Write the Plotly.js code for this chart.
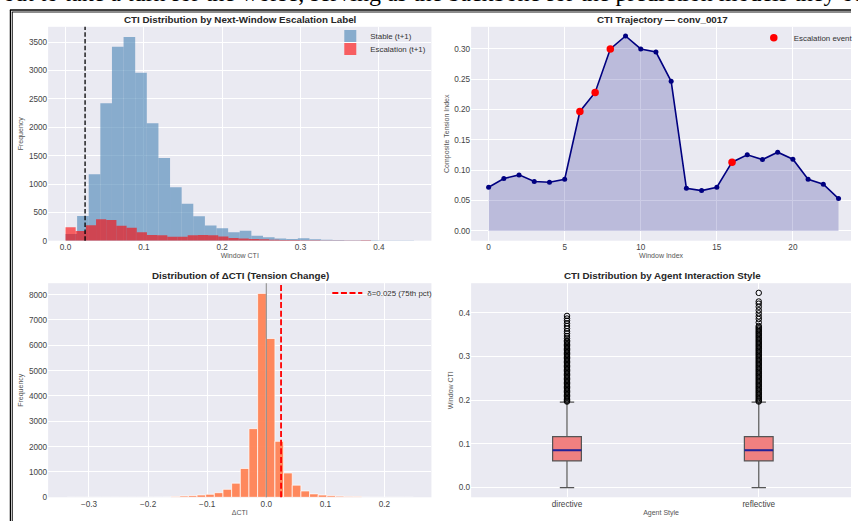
<!DOCTYPE html>
<html><head><meta charset="utf-8">
<script src="https://cdn.plot.ly/plotly-3.0.1.min.js"></script>
<style>html,body{margin:0;padding:0;background:#fff;} #chart{width:858px;height:521px;}</style>
</head><body><div id="chart"></div>
<script>
// ---------- DATA ----------
// Panel 1: CTI histogram by next-window label
const stableBinStart = 0.0;
const stableBinSize = 0.01483;
const stableCounts = [120, 435, 1170, 2423, 3422, 3593, 2964, 2070, 1458, 941, 653, 430, 270, 219, 148, 176, 88, 60, 40, 32, 42, 25, 18, 12, 10, 8, 6, 5, 4, 3];
const escalationBinStart = 0.0;
const escalationBinSize = 0.013;
const escalationCounts = [236, 171, 271, 377, 365, 265, 229, 150, 100, 96, 70, 68, 95, 100, 98, 72, 48, 40, 30, 24, 18, 13, 11, 8, 6, 5, 4, 4, 2, 6];
const deltaThreshold = 0.025;

// Panel 2: CTI trajectory for conv_0017
const windowIndex = [0, 1, 2, 3, 4, 5, 6, 7, 8, 9, 10, 11, 12, 13, 14, 15, 16, 17, 18, 19, 20, 21, 22, 23];
const ctiTrajectory = [0.072, 0.0863, 0.0923, 0.0813, 0.0802, 0.0852, 0.1967, 0.228, 0.2995, 0.3209, 0.2995, 0.2945, 0.2462, 0.0703, 0.0665, 0.072, 0.1132, 0.1253, 0.1176, 0.1297, 0.1181, 0.0852, 0.0769, 0.0533];
const escalationWindows = [6, 7, 8, 16];

// Panel 3: distribution of delta CTI
const deltaBinStart = -0.33695;
const deltaBinSize = 0.01465;
const deltaCounts = [1, 0, 0, 1, 0, 1, 0, 1, 2, 3, 4, 6, 30, 50, 64, 91, 118, 182, 315, 558, 1138, 2710, 8050, 6270, 2210, 960, 480, 250, 135, 90, 60, 45, 35, 30, 4, 2, 1, 0, 1, 1];

// Panel 4: CTI by agent style (box statistics)
const agentStyles = ['directive', 'reflective'];
const boxQ1 = [0.061, 0.061];
const boxMedian = [0.0853, 0.0853];
const boxQ3 = [0.1166, 0.1166];
const boxLower = [0.0, 0.0];
const boxUpper = [0.1958, 0.1958];
const directiveOutliers = [0.197, 0.199, 0.202, 0.205, 0.208, 0.211, 0.214, 0.217, 0.220, 0.223, 0.226, 0.229, 0.232, 0.235, 0.238, 0.241, 0.244, 0.247, 0.250, 0.253, 0.256, 0.259, 0.262, 0.265, 0.268, 0.271, 0.274, 0.277, 0.280, 0.283, 0.286, 0.289, 0.292, 0.295, 0.298, 0.301, 0.304, 0.307, 0.310, 0.313, 0.316, 0.319, 0.322, 0.325, 0.328, 0.331, 0.334, 0.337, 0.341, 0.347, 0.353, 0.358, 0.364, 0.370, 0.376, 0.382, 0.387, 0.393];
const reflectiveOutliers = [0.197, 0.199, 0.202, 0.205, 0.208, 0.211, 0.214, 0.217, 0.220, 0.223, 0.226, 0.229, 0.232, 0.235, 0.238, 0.241, 0.244, 0.247, 0.250, 0.253, 0.256, 0.259, 0.262, 0.265, 0.268, 0.271, 0.274, 0.277, 0.280, 0.283, 0.286, 0.289, 0.292, 0.295, 0.298, 0.301, 0.304, 0.307, 0.310, 0.313, 0.316, 0.319, 0.322, 0.325, 0.328, 0.331, 0.334, 0.337, 0.340, 0.343, 0.346, 0.349, 0.352, 0.355, 0.358, 0.361, 0.364, 0.367, 0.370, 0.378, 0.386, 0.392, 0.399, 0.406, 0.414, 0.421, 0.426, 0.4457];

// ---------- LAYOUT HELPERS ----------
const W = 858, H = 521;
const fx = p => p / W;
const fy = p => 1 - p / H;
const binLefts = (start, size, n) => Array.from({length: n}, (_, i) => start + i * size);

const BG = '#EAEAF2';
const TICKFONT = {family: 'Liberation Sans, Arial, sans-serif', size: 8.2, color: '#444'};
const AXTITLE = {family: 'Liberation Sans, Arial, sans-serif', size: 7, color: '#555'};

function axis(extra) {
  return Object.assign({
    showgrid: true, gridcolor: '#FFFFFF', gridwidth: 1,
    zeroline: false, showline: false, ticks: '', ticklen: 0,
    tickfont: TICKFONT, fixedrange: true
  }, extra);
}

const traces = [
  {type: 'bar', x: binLefts(stableBinStart, stableBinSize, stableCounts.length), y: stableCounts,
   width: stableBinSize, offset: 0, name: 'Stable (t+1)',
   marker: {color: 'rgba(70,130,180,0.6)', line: {width: 0}},
   xaxis: 'x', yaxis: 'y', legend: 'legend'},
  {type: 'bar', x: binLefts(escalationBinStart, escalationBinSize, escalationCounts.length), y: escalationCounts,
   width: escalationBinSize, offset: 0, name: 'Escalation (t+1)',
   marker: {color: 'rgba(255,0,0,0.6)', line: {width: 0}},
   xaxis: 'x', yaxis: 'y', legend: 'legend2'},
  {type: 'scatter', mode: 'lines+markers', x: windowIndex, y: ctiTrajectory,
   fill: 'tozeroy', fillcolor: 'rgba(0,0,128,0.2)',
   line: {color: '#000080', width: 1.6}, marker: {color: '#000080', size: 5},
   showlegend: false, xaxis: 'x2', yaxis: 'y2'},
  {type: 'scatter', mode: 'markers', x: escalationWindows, y: escalationWindows.map(i => ctiTrajectory[i]),
   marker: {color: '#FF0000', size: 7.5}, name: 'Escalation event',
   xaxis: 'x2', yaxis: 'y2', legend: 'legend3'},
  {type: 'bar', x: binLefts(deltaBinStart, deltaBinSize, deltaCounts.length), y: deltaCounts,
   width: deltaBinSize, offset: 0, showlegend: false,
   marker: {color: 'rgba(255,127,80,0.92)', line: {color: '#FFFFFF', width: 0.7}},
   xaxis: 'x3', yaxis: 'y3'},
  {type: 'box', x: agentStyles, q1: boxQ1, median: boxMedian, q3: boxQ3,
   lowerfence: boxLower, upperfence: boxUpper, boxpoints: false,
   fillcolor: '#F08080', line: {color: '#555555', width: 1.2}, whiskerwidth: 0.5, width: 0.15,
   showlegend: false, xaxis: 'x4', yaxis: 'y4'},
  {type: 'box', x: agentStyles, q1: boxMedian, median: boxMedian, q3: boxMedian,
   lowerfence: boxMedian, upperfence: boxMedian, boxpoints: false,
   fillcolor: 'rgba(0,0,0,0)', line: {color: '#22229A', width: 2}, whiskerwidth: 0, width: 0.15,
   showlegend: false, xaxis: 'x4', yaxis: 'y4'},
  {type: 'scatter', mode: 'markers', x: directiveOutliers.map(() => agentStyles[0]), y: directiveOutliers,
   marker: {symbol: 'circle-open', size: 5.5, color: '#000000', line: {width: 1}},
   showlegend: false, xaxis: 'x4', yaxis: 'y4'},
  {type: 'scatter', mode: 'markers', x: reflectiveOutliers.map(() => agentStyles[1]), y: reflectiveOutliers,
   marker: {symbol: 'circle-open', size: 5.5, color: '#000000', line: {width: 1}},
   showlegend: false, xaxis: 'x4', yaxis: 'y4'}
];

const topY = [fy(240.7), fy(26.8)];
const botY = [fy(497.3), fy(283.2)];
const leftX = [fx(48.5), fx(435)];
const rightX = [fx(475), 1];

const titleFont = {family: 'Liberation Sans, Arial, sans-serif', size: 9.8, color: '#262626'};
function ptitle(text, xpx, ypx) {
  return {xref: 'paper', yref: 'paper', x: fx(xpx), y: fy(ypx), xanchor: 'center', yanchor: 'middle',
          text: '<b>' + text + '</b>', showarrow: false, font: titleFont};
}

const legendBase = {bgcolor: 'rgba(0,0,0,0)', borderwidth: 0, font: {family: 'Liberation Sans, Arial, sans-serif', size: 7.9, color: '#333'},
                    xanchor: 'left', yanchor: 'middle'};

const layout = {
  width: W, height: H, autosize: false,
  margin: {l: 0, r: 0, t: 0, b: 0, pad: 0},
  paper_bgcolor: '#FFFFFF', plot_bgcolor: BG,
  font: {family: 'Liberation Sans, Arial, sans-serif', size: 8.2, color: '#444'},
  barmode: 'overlay', boxmode: 'overlay',
  xaxis: axis({domain: leftX, range: [-0.0222, 0.4672], tickvals: [0, 0.1, 0.2, 0.3, 0.4], tickformat: '.1f', anchor: 'y',
               title: {text: 'Window CTI', font: AXTITLE, standoff: 2}}),
  yaxis: axis({domain: topY, range: [0, 3773], dtick: 500, tick0: 0, anchor: 'x',
               title: {text: 'Frequency', font: AXTITLE, standoff: 4}}),
  xaxis2: axis({domain: rightX, range: [-1.15, 23.82], dtick: 5, tick0: 0, anchor: 'y2',
                title: {text: 'Window Index', font: AXTITLE, standoff: 2}}),
  yaxis2: axis({domain: topY, range: [-0.016, 0.336], dtick: 0.05, tick0: 0, tickformat: '.2f', anchor: 'x2',
                title: {text: 'Composite Tension Index', font: AXTITLE, standoff: 3}}),
  xaxis3: axis({domain: leftX, range: [-0.3692, 0.2795], dtick: 0.1, tick0: 0, tickformat: '.1f', anchor: 'y3',
                title: {text: 'ΔCTI', font: AXTITLE, standoff: 2}}),
  yaxis3: axis({domain: botY, range: [0, 8452], dtick: 1000, tick0: 0, anchor: 'x3',
                title: {text: 'Frequency', font: AXTITLE, standoff: 4}}),
  xaxis4: axis({domain: rightX, type: 'category', range: [-0.5, 1.481], anchor: 'y4',
                title: {text: 'Agent Style', font: AXTITLE, standoff: 2}}),
  yaxis4: axis({domain: botY, range: [-0.0222, 0.4679], dtick: 0.1, tick0: 0, tickformat: '.1f', anchor: 'x4',
                title: {text: 'Window CTI', font: AXTITLE, standoff: 4}}),
  legend: Object.assign({x: fx(333), y: fy(36)}, legendBase),
  legend2: Object.assign({x: fx(333), y: fy(49)}, legendBase),
  legend3: Object.assign({x: fx(760), y: fy(37.7)}, legendBase),
  legend4: Object.assign({x: fx(330), y: fy(293)}, legendBase),
  annotations: [
    {xref: 'paper', yref: 'paper', x: fx(1), y: fy(-7), xanchor: 'left', yanchor: 'middle', showarrow: false,
     text: 'out to take a turn for the worse, serving as the backbone for the prediction models they outline',
     font: {family: 'Liberation Serif, Times New Roman, serif', size: 24, color: '#000'}},
    ptitle('CTI Distribution by Next-Window Escalation Label', 242.5, 19),
    ptitle('CTI Trajectory — conv_0017', 668, 19),
    ptitle('Distribution of ΔCTI (Tension Change)', 242.5, 275.3),
    ptitle('CTI Distribution by Agent Interaction Style', 668.3, 275.3)
  ],
  shapes: [
    {type: 'line', xref: 'x', yref: 'y domain', x0: deltaThreshold, x1: deltaThreshold, y0: 0, y1: 1,
     line: {color: '#000000', width: 1.3, dash: '4.5px,2.3px'}, layer: 'above'},
    {type: 'line', xref: 'x3', yref: 'y3 domain', x0: 0, x1: 0, y0: 0, y1: 1,
     line: {color: 'rgba(110,110,110,0.85)', width: 1}, layer: 'above'},
    {type: 'line', xref: 'x3', yref: 'y3 domain', x0: deltaThreshold, x1: deltaThreshold, y0: 0, y1: 1,
     line: {color: '#FF0000', width: 1.8, dash: '6px,2.6px'}, layer: 'above',
     showlegend: true, name: 'δ=0.025 (75th pct)', legend: 'legend4'},
    // page frame
    {type: 'line', xref: 'paper', yref: 'paper', x0: fx(10), x1: 1, y0: fy(10), y1: fy(10), line: {color: '#000', width: 1.3}},
    {type: 'line', xref: 'paper', yref: 'paper', x0: fx(12), x1: 1, y0: fy(12), y1: fy(12), line: {color: '#000', width: 0.9}},
    {type: 'line', xref: 'paper', yref: 'paper', x0: fx(10.5), x1: fx(10.5), y0: fy(10), y1: 0, line: {color: '#000', width: 1.3}},
    {type: 'line', xref: 'paper', yref: 'paper', x0: fx(12.4), x1: fx(12.4), y0: fy(12), y1: 0, line: {color: '#000', width: 0.9}}
  ]
};

Plotly.newPlot('chart', traces, layout, {displayModeBar: false, staticPlot: true});
</script></body></html>
